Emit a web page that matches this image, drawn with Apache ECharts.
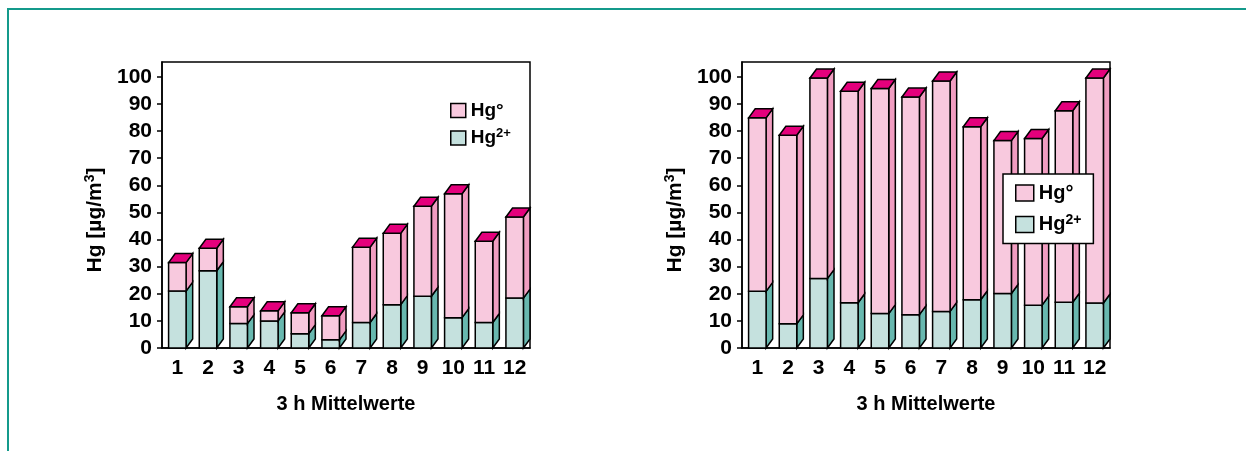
<!DOCTYPE html>
<html><head><meta charset="utf-8">
<script src="https://cdn.jsdelivr.net/npm/echarts@6/dist/echarts.min.js"></script>
<style>html,body{margin:0;padding:0;background:#fff}#c{width:1246px;height:451px}</style>
</head><body><div id="c"></div>
<script>
const categories = ['1','2','3','4','5','6','7','8','9','10','11','12'];
const yTicks = [0,10,20,30,40,50,60,70,80,90,100];
// left chart (µg/m³)
const leftHg2 = [21.0, 28.5, 9.0, 10.0, 5.3, 3.0, 9.4, 16.0, 19.1, 11.2, 9.4, 18.4];
const leftHg0 = [10.5, 8.3, 6.2, 3.7, 7.7, 8.9, 27.8, 26.3, 33.2, 45.7, 30.0, 29.9];
// right chart (µg/m³)
const rightHg2 = [20.9, 8.9, 25.6, 16.7, 12.7, 12.3, 13.5, 17.8, 20.1, 15.8, 16.9, 16.6];
const rightHg0 = [64.0, 69.6, 74.0, 78.0, 83.0, 80.3, 85.0, 63.8, 56.4, 61.5, 70.6, 83.0];

const FONT = "'Liberation Sans','Arial',sans-serif";
const FW = 'bold';
const COL = {frontPink:'#f8c9de', sidePink:'#f19dc1', topMag:'#e4007c', frontTeal:'#c5e1de', sideTeal:'#68b8af'};

function segData(bases, vals){
  return vals.map((v,i)=>[i, bases ? bases[i] : 0, (bases ? bases[i] : 0) + v]);
}
function renderer(front, side, withTop){
  return function(params, api){
    const x = api.value(0), b = api.value(1), t = api.value(2);
    const p0 = api.coord([x,b]), p1 = api.coord([x,t]);
    const band = api.size([1,0])[0];
    const w = band*0.57, dx = band*0.215, dy = 9;
    const xl = p0[0]-w/2, xr = p0[0]+w/2, yb = p0[1], yt = p1[1];
    const st = {stroke:'#000', lineWidth:1.5, lineJoin:'miter'};
    const children = [
      {type:'polygon', shape:{points:[[xr,yb],[xr+dx,yb-dy],[xr+dx,yt-dy],[xr,yt]]}, style:Object.assign({fill:side}, st)},
      {type:'rect', shape:{x:xl, y:yt, width:w, height:yb-yt}, style:Object.assign({fill:front}, st)}
    ];
    if (withTop) children.push({type:'polygon', shape:{points:[[xl,yt],[xl+dx,yt-dy],[xr+dx,yt-dy],[xr,yt]]}, style:Object.assign({fill:COL.topMag}, st)});
    return {type:'group', children};
  };
}
const tickStyle = {color:'#000', fontSize:21, fontWeight:FW, fontFamily:FONT};
const nameStyle = {color:'#000', fontSize:20, fontWeight:FW, fontFamily:FONT};
const lineSt = {color:'#000', width:1.5};
function xAx(g){
  return {gridIndex:g, type:'category', data:categories,
    axisLine:{lineStyle:lineSt}, axisTick:{length:6, lineStyle:lineSt},
    axisLabel:Object.assign({margin:10, interval:0}, tickStyle),
    name:'3 h Mittelwerte', nameLocation:'middle', nameGap:46, nameTextStyle:nameStyle};
}
function yAx(g){
  return {gridIndex:g, type:'value', min:0, max:105.5, interval:10,
    axisLine:{show:true, lineStyle:lineSt},
    axisTick:{show:true, length:5, lineStyle:lineSt, customValues:yTicks},
    axisLabel:Object.assign({margin:10, customValues:yTicks}, tickStyle),
    splitLine:{show:false},
    name:'{a|Hg [µg/m}{s|3}{a|]}', nameLocation:'middle', nameRotate:90, nameGap:55,
    nameTextStyle:{color:'#000', fontSize:21, fontWeight:'bold', fontFamily:FONT, padding:[0,30,0,0],
      rich:{a:{fontSize:21, fontWeight:'bold', fontFamily:FONT, color:'#000', lineHeight:24},
            s:{fontSize:14, fontWeight:'bold', fontFamily:FONT, color:'#000', verticalAlign:'top', lineHeight:14}}}};
}
function legendData(){
  return [
    {name:'Hg0', itemStyle:{color:COL.frontPink, borderColor:'#000', borderWidth:1.5}},
    {name:'Hg2+', itemStyle:{color:COL.frontTeal, borderColor:'#000', borderWidth:1.5}}
  ];
}
function legendRich(fs){
  return {a:{fontSize:fs, fontWeight:FW, fontFamily:FONT, color:'#000', lineHeight:fs+3}, s:{fontSize:Math.round(fs*0.68), fontWeight:FW, fontFamily:FONT, color:'#000', verticalAlign:'top', lineHeight:Math.round(fs*0.68)}};
}
const fmt = n => n==='Hg0' ? '{a|Hg°}' : '{a|Hg}{s|2+}';

const chart = echarts.init(document.getElementById('c'), null, {renderer:'canvas'});
chart.setOption({
  animation:false,
  backgroundColor:'#fff',
  graphic:[{type:'polyline', shape:{points:[[8,451],[8,9],[1246,9]]}, style:{stroke:'#149a8b', lineWidth:2, fill:null}, silent:true}],
  grid:[
    {left:162, top:62, width:368, height:286, show:true, borderColor:'#000', borderWidth:1.5},
    {left:742, top:62, width:368, height:286, show:true, borderColor:'#000', borderWidth:1.5}
  ],
  xAxis:[xAx(0), xAx(1)],
  yAxis:[yAx(0), yAx(1)],
  legend:[
    {orient:'vertical', left:450, top:101, padding:0, itemWidth:15, itemHeight:14, itemGap:7, icon:'rect', selectedMode:false,
     data:legendData(), formatter:fmt, textStyle:{fontSize:19, fontWeight:FW, fontFamily:FONT, rich:legendRich(19)}},
    {orient:'vertical', left:1003, top:174, padding:[9,12,9,12], borderColor:'#000', borderWidth:1.5, backgroundColor:'#fff',
     itemWidth:18, itemHeight:16, itemGap:10, icon:'rect', selectedMode:false,
     data:legendData(), formatter:fmt, textStyle:{fontSize:20, fontWeight:FW, fontFamily:FONT, rich:legendRich(20)}}
  ],
  series:[
    {type:'custom', name:'Hg2+', xAxisIndex:0, yAxisIndex:0, itemStyle:{color:COL.frontTeal}, encode:{x:0, y:[1,2]}, data:segData(null,leftHg2), renderItem:renderer(COL.frontTeal, COL.sideTeal, false)},
    {type:'custom', name:'Hg0', xAxisIndex:0, yAxisIndex:0, itemStyle:{color:COL.frontPink}, encode:{x:0, y:[1,2]}, data:segData(leftHg2,leftHg0), renderItem:renderer(COL.frontPink, COL.sidePink, true)},
    {type:'custom', name:'Hg2+', xAxisIndex:1, yAxisIndex:1, itemStyle:{color:COL.frontTeal}, encode:{x:0, y:[1,2]}, data:segData(null,rightHg2), renderItem:renderer(COL.frontTeal, COL.sideTeal, false)},
    {type:'custom', name:'Hg0', xAxisIndex:1, yAxisIndex:1, itemStyle:{color:COL.frontPink}, encode:{x:0, y:[1,2]}, data:segData(rightHg2,rightHg0), renderItem:renderer(COL.frontPink, COL.sidePink, true)}
  ]
});
</script></body></html>
